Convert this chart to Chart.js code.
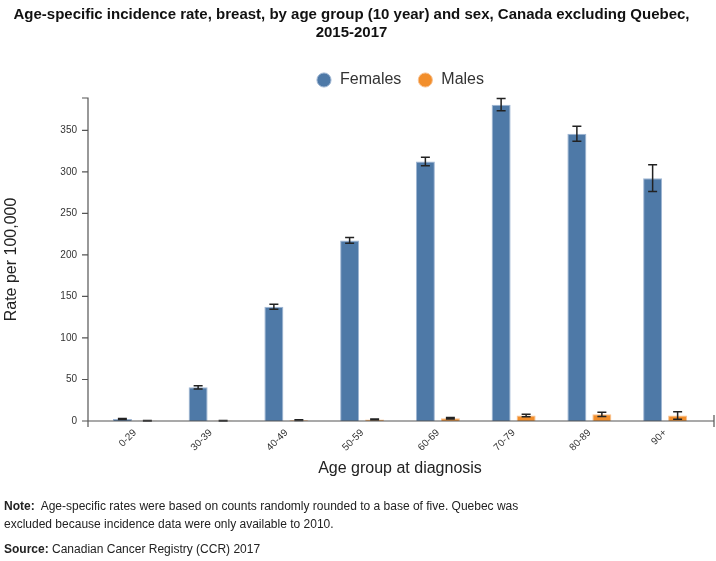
<!DOCTYPE html>
<html>
<head>
<meta charset="utf-8">
<script src="https://cdn.jsdelivr.net/npm/chart.js@4/dist/chart.umd.min.js"></script>
<style>
  body { margin: 0; background: #fff; }
  #wrap { position: relative; width: 716px; height: 561px; }
  #note { position: absolute; left: 4px; top: 497px; width: 535px; font: 12px "Liberation Sans", Arial, sans-serif; color: #222; line-height: 18px; }
  #note p { margin: 0 0 7px 0; }
</style>
</head>
<body>
<div id="wrap">
  <canvas id="chart" width="716" height="561"></canvas>
  <div id="note">
    <p><b>Note:</b>&nbsp; Age-specific rates were based on counts randomly rounded to a base of five. Quebec was excluded because incidence data were only available to 2010.</p>
    <p><b>Source:</b> Canadian Cancer Registry (CCR) 2017</p>
  </div>
</div>
<script>
// Categories and series
const ageGroups = ["0-29", "30-39", "40-49", "50-59", "60-69", "70-79", "80-89", "90+"];
const females = [2.4, 40.5, 137.5, 217.5, 312.5, 381, 346, 292.5];
const femalesErr = [0.5, 2, 3, 3.5, 5, 7.5, 9, 16];
const males = [0.3, 0.4, 1.0, 1.8, 3.3, 6.5, 8, 6.5];
const malesErr = [0.3, 0.3, 0.4, 0.6, 0.8, 1.5, 2.5, 4.5];
const yTicks = [0, 50, 100, 150, 200, 250, 300, 350];

const axisColor = "#555";

// Error bars, drawn from the data through the chart's scales
const errorBars = {
  id: "errorBars",
  afterDatasetsDraw(chart) {
    const ctx = chart.ctx;
    const y = chart.scales.y;
    const errs = [femalesErr, malesErr];
    ctx.save();
    ctx.strokeStyle = "#222";
    ctx.lineWidth = 1.5;
    chart.data.datasets.forEach((ds, di) => {
      chart.getDatasetMeta(di).data.forEach((bar, i) => {
        const v = ds.data[i], e = errs[di][i];
        const top = y.getPixelForValue(v + e);
        const bot = y.getPixelForValue(Math.max(0, v - e));
        ctx.beginPath();
        ctx.moveTo(bar.x, top); ctx.lineTo(bar.x, bot);
        ctx.moveTo(bar.x - 4.5, top); ctx.lineTo(bar.x + 4.5, top);
        ctx.moveTo(bar.x - 4.5, bot); ctx.lineTo(bar.x + 4.5, bot);
        ctx.stroke();
      });
    });
    ctx.restore();
  }
};

// Axis lines sit a little outside the category bands, like the original
const axisLines = {
  id: "axisLines",
  afterDraw(chart) {
    const ctx = chart.ctx;
    const a = chart.chartArea;
    const y = chart.scales.y;
    const x0 = a.left - 9, x1 = a.right + 11;
    ctx.save();
    ctx.strokeStyle = axisColor;
    ctx.lineWidth = 1.2;
    ctx.beginPath();
    ctx.moveTo(x0 - 6, a.top); ctx.lineTo(x0, a.top); ctx.lineTo(x0, a.bottom + 6);
    yTicks.forEach(t => {
      const py = y.getPixelForValue(t);
      ctx.moveTo(x0 - 6, py); ctx.lineTo(x0, py);
    });
    ctx.moveTo(x0, a.bottom); ctx.lineTo(x1, a.bottom);
    ctx.moveTo(x1, a.bottom - 6); ctx.lineTo(x1, a.bottom + 6);
    ctx.stroke();
    ctx.restore();
  }
};

new Chart(document.getElementById("chart"), {
  type: "bar",
  data: {
    labels: ageGroups,
    datasets: [
      { label: "Females", data: females, backgroundColor: "#4e79a7", borderColor: "#9fb6d3", borderWidth: 1 },
      { label: "Males", data: males, backgroundColor: "#f28e2b", borderColor: "#f8c190", borderWidth: 1 }
    ]
  },
  options: {
    responsive: false,
    animation: false,
    categoryPercentage: 0.66,
    barPercentage: 0.76,
    layout: { padding: { left: 0, right: 13, top: 0, bottom: 83 } },
    plugins: {
      title: {
        display: true,
        text: ["Age-specific incidence rate, breast, by age group (10 year) and sex, Canada excluding Quebec,", "2015-2017"],
        font: { family: "'Liberation Sans Narrow', 'Arial Narrow', 'Liberation Sans', Arial", size: 15, weight: "bold", lineHeight: 1.2 },
        color: "#111",
        padding: { top: 6, bottom: 14 }
      },
      legend: {
        fullSize: false,
        labels: {
          usePointStyle: true,
          pointStyle: "circle",
          boxWidth: 18,
          boxHeight: 10,
          padding: 16,
          color: "#333",
          font: { family: "'Liberation Sans', Arial", size: 16 }
        }
      },
      tooltip: { enabled: false }
    },
    scales: {
      x: {
        grid: { display: false, drawTicks: false },
        border: { display: false },
        ticks: { minRotation: 45, maxRotation: 45, padding: 6, color: "#333", font: { family: "'Liberation Sans', Arial", size: 10 } },
        title: { display: true, text: "Age group at diagnosis", color: "#222", padding: 0, font: { family: "'Liberation Sans', Arial", size: 16 } },
        afterFit(scale) { scale.height = 57; }
      },
      y: {
        min: 0,
        max: 389,
        grid: { display: false, drawTicks: false },
        border: { display: false },
        afterBuildTicks(scale) { scale.ticks = yTicks.map(v => ({ value: v })); },
        ticks: { padding: 20, color: "#333", font: { family: "'Liberation Sans', Arial", size: 10 } },
        title: { display: true, text: "Rate per 100,000", color: "#222", padding: 2, font: { family: "'Liberation Sans', Arial", size: 16 } },
        afterFit(scale) { scale.width = 97; }
      }
    }
  },
  plugins: [errorBars, axisLines]
});
</script>
</body>
</html>
